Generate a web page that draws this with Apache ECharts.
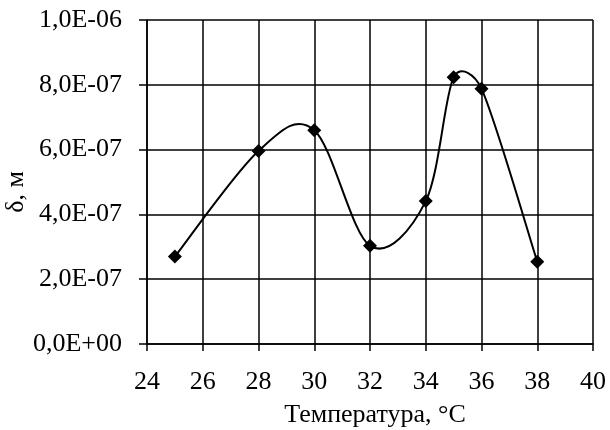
<!DOCTYPE html>
<html>
<head>
<meta charset="utf-8">
<script src="https://cdn.jsdelivr.net/npm/echarts@6/dist/echarts.min.js"></script>
<style>
  html, body { margin: 0; padding: 0; background: #fff; }
  #chart { width: 610px; height: 430px; }
</style>
</head>
<body>
<div id="chart"></div>
<script>
// Film thickness δ (m) measured at each temperature (°C)
const temperatures = [25, 28, 30, 32, 34, 35, 36, 38];
const deltaValues = [2.70e-7, 5.96e-7, 6.60e-7, 3.03e-7, 4.41e-7, 8.23e-7, 7.88e-7, 2.54e-7];

const xAxisName = 'Температура, °C';
const yAxisName = 'δ, м';

const FONT = '"Liberation Serif", "Times New Roman", serif';
const FONT_SIZE = 26;

// Scientific notation with decimal comma and two-digit exponent, e.g. 6,0E-07
function sciLabel(v) {
  if (Math.abs(v) < 1e-15) return '0,0E+00';
  const parts = v.toExponential(1).split('e');
  const mant = parts[0].replace('.', ',');
  const exp = parseInt(parts[1], 10);
  const sign = exp < 0 ? '-' : '+';
  const abs = Math.abs(exp);
  return mant + 'E' + sign + (abs < 10 ? '0' + abs : String(abs));
}

const points = temperatures.map((t, i) => [t, deltaValues[i]]);

// Smoothed polyline through the pixel positions of the points: cubic Bezier
// segments whose tangents follow the neighbouring points (1/6 of the chord),
// each tangent limited to half of the segment length.
function smoothPath(px) {
  const n = px.length;
  const dist = (a, b) => Math.hypot(b[0] - a[0], b[1] - a[1]);
  let d = 'M' + px[0][0] + ' ' + px[0][1];
  for (let i = 0; i < n - 1; i++) {
    const p0 = px[Math.max(i - 1, 0)];
    const p1 = px[i];
    const p2 = px[i + 1];
    const p3 = px[Math.min(i + 2, n - 1)];
    const seg = dist(p1, p2);
    const d02 = dist(p0, p2);
    const d13 = dist(p1, p3);
    let f1 = 1 / 6, f2 = 1 / 6;
    if (d02 / 6 > seg / 2 && d02 > 0) f1 = seg / (2 * d02);
    if (d13 / 6 > seg / 2 && d13 > 0) f2 = seg / (2 * d13);
    const c1 = [p1[0] + (p2[0] - p0[0]) * f1, p1[1] + (p2[1] - p0[1]) * f1];
    const c2 = [p2[0] - (p3[0] - p1[0]) * f2, p2[1] - (p3[1] - p1[1]) * f2];
    d += ' C' + c1[0] + ' ' + c1[1] + ' ' + c2[0] + ' ' + c2[1] + ' ' + p2[0] + ' ' + p2[1];
  }
  return d;
}

const chart = echarts.init(document.getElementById('chart'), null, { renderer: 'canvas' });

const lineStyleBlack = { color: '#000', width: 1.5 };

chart.setOption({
  animation: false,
  backgroundColor: '#fff',
  grid: { left: 147, right: 17, top: 20, bottom: 86, containLabel: false, outerBoundsMode: 'none' },
  xAxis: {
    type: 'value',
    min: 24, max: 40, interval: 2,
    name: xAxisName,
    nameLocation: 'middle',
    nameGap: 58,
    nameMoveOverlap: false,
    nameTextStyle: { fontFamily: FONT, fontSize: FONT_SIZE, color: '#000', padding: [0, 0, 0, 10] },
    axisLine: { show: true, onZero: false, lineStyle: lineStyleBlack },
    axisTick: { show: true, inside: false, length: 7, lineStyle: lineStyleBlack },
    axisLabel: { fontFamily: FONT, fontSize: FONT_SIZE, color: '#000', margin: 25 },
    splitLine: { show: true, lineStyle: lineStyleBlack }
  },
  yAxis: {
    type: 'value',
    min: 0, max: 1e-6, interval: 2e-7,
    name: yAxisName,
    nameLocation: 'middle',
    nameGap: 118,
    nameRotate: 90,
    nameMoveOverlap: false,
    nameTextStyle: { fontFamily: FONT, fontSize: FONT_SIZE, color: '#000', padding: [0, 20, 0, 0] },
    axisLine: { show: true, lineStyle: lineStyleBlack },
    axisTick: { show: true, inside: false, length: 8, lineStyle: lineStyleBlack },
    axisLabel: { fontFamily: FONT, fontSize: FONT_SIZE, color: '#000', margin: 25, formatter: sciLabel },
    splitLine: { show: true, lineStyle: lineStyleBlack }
  },
  series: [
    {
      // smoothed curve through all points
      type: 'custom',
      data: points,
      silent: true,
      z: 4,
      renderItem: function (params, api) {
        if (params.dataIndex !== 0) return null;
        const px = temperatures.map((t, i) => api.coord([t, deltaValues[i]]));
        return {
          type: 'path',
          shape: { pathData: smoothPath(px) },
          style: { fill: 'none', stroke: '#000', lineWidth: 2 }
        };
      }
    },
    {
      type: 'scatter',
      data: points,
      symbol: 'diamond',
      symbolSize: 14,
      itemStyle: { color: '#000', opacity: 1 },
      z: 5
    }
  ]
});
</script>
</body>
</html>
